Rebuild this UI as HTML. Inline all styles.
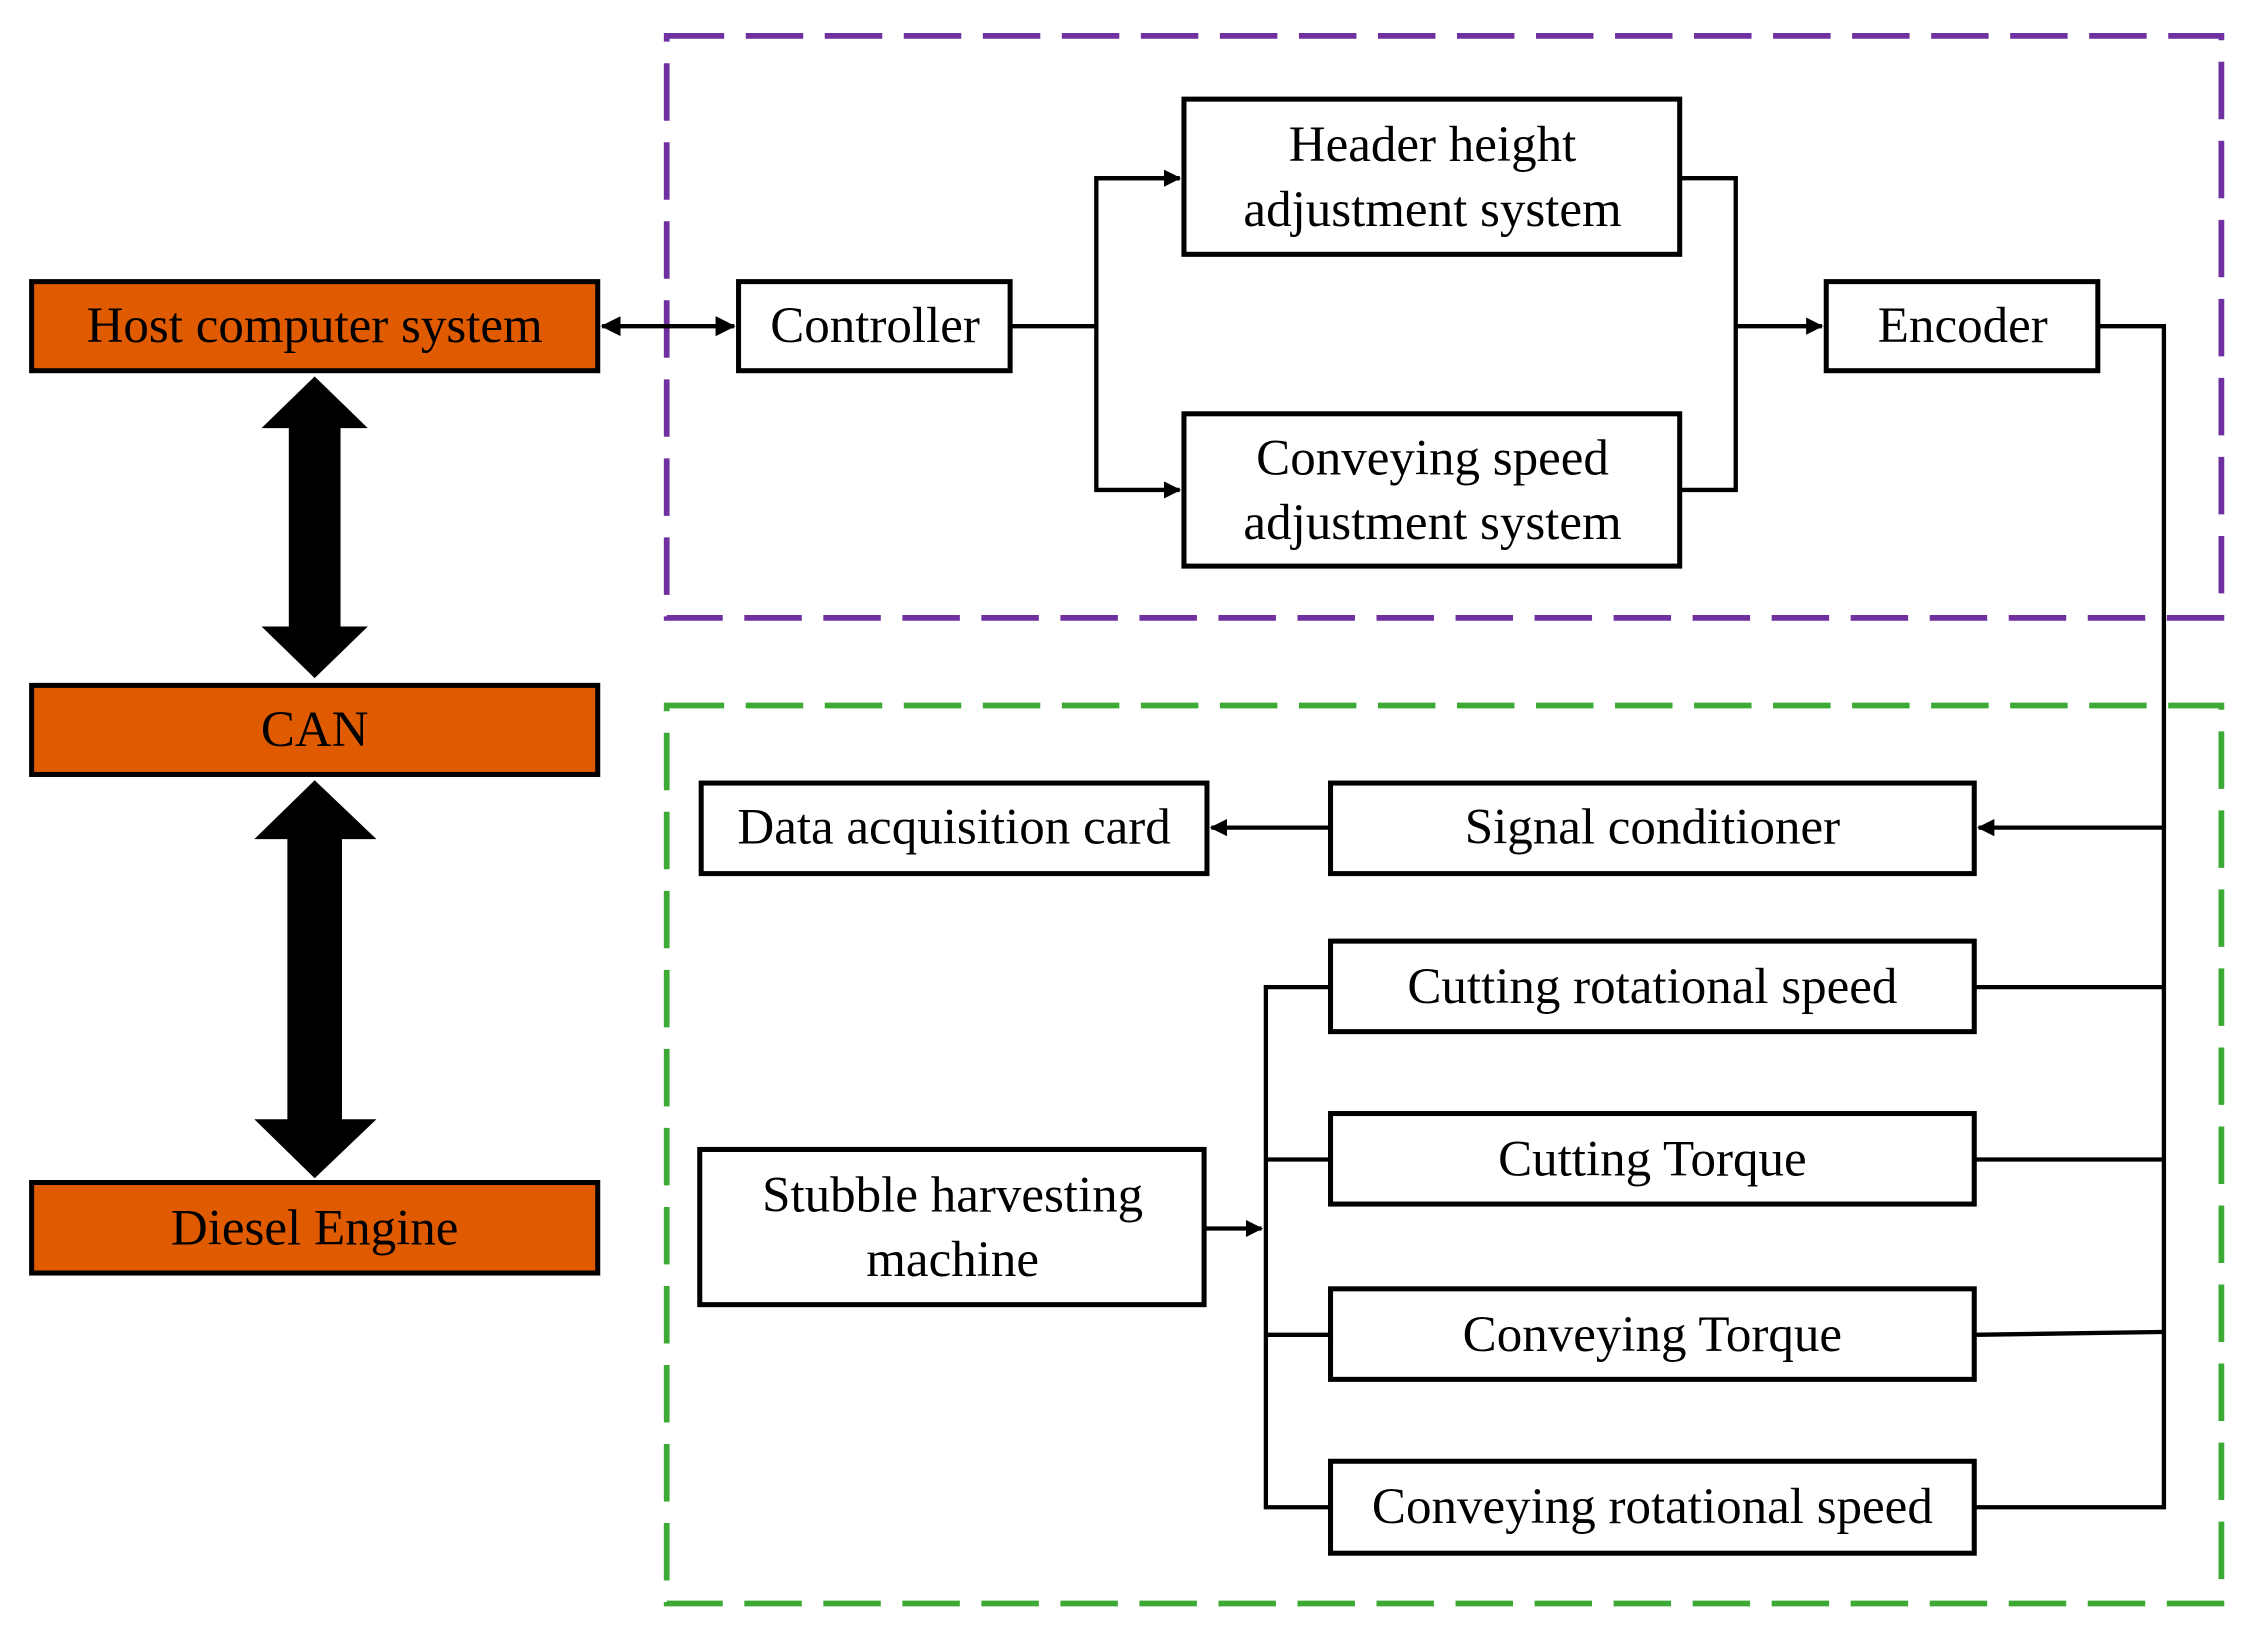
<!DOCTYPE html>
<html><head><meta charset="utf-8"><style>
html,body{margin:0;padding:0;background:#fff;}
svg{display:block;}
text{font-family:"Liberation Serif",serif;font-size:35.5px;fill:#000;text-anchor:middle;dominant-baseline:central;}
</style></head><body>
<svg width="2253" height="1640" viewBox="0 0 1568 1141.4" preserveAspectRatio="none" xmlns="http://www.w3.org/2000/svg">
<defs>
<marker id="a" markerWidth="12" markerHeight="12" refX="11" refY="6" orient="auto" markerUnits="userSpaceOnUse" viewBox="0 0 12 12">
<path d="M0,0 L12,6 L0,12 Z" fill="#000"/></marker>
<marker id="as" markerWidth="14" markerHeight="14" refX="13" refY="7" orient="auto-start-reverse" markerUnits="userSpaceOnUse" viewBox="0 0 14 14">
<path d="M0,0 L14,7 L0,14 Z" fill="#000"/></marker>
</defs>
<rect x="464" y="25" width="1082" height="405" fill="none" stroke="#7030A0" stroke-width="4" stroke-dasharray="40,15"/>
<rect x="464" y="491" width="1082" height="625" fill="none" stroke="#3DAA35" stroke-width="4" stroke-dasharray="40,15"/>
<g stroke="#000" stroke-width="3.5">
<rect x="22" y="196" width="394" height="62" fill="#E05A00"/>
<rect x="22" y="477" width="394" height="62" fill="#E05A00"/>
<rect x="22" y="823" width="394" height="63" fill="#E05A00"/>
<g fill="#fff">
<rect x="514" y="196" width="189" height="62"/>
<rect x="824" y="69" width="345" height="108"/>
<rect x="824" y="288" width="345" height="106"/>
<rect x="1271" y="196" width="189" height="62"/>
<rect x="488" y="545" width="352" height="63"/>
<rect x="926" y="545" width="448" height="63"/>
<rect x="926" y="655" width="448" height="63"/>
<rect x="926" y="775" width="448" height="63"/>
<rect x="926" y="897" width="448" height="63"/>
<rect x="926" y="1017" width="448" height="64"/>
<rect x="487" y="800" width="351" height="108"/>
</g>
</g>
<g fill="none" stroke="#000" stroke-width="3">
<line x1="419" y1="227" x2="511" y2="227" marker-start="url(#as)" marker-end="url(#as)"/>
<polyline points="703,227 763,227"/>
<polyline points="821,124 763,124 763,341 821,341" marker-end="url(#a)"/>
<line x1="763" y1="124" x2="821" y2="124" marker-end="url(#a)"/>
<polyline points="1169,124 1208,124 1208,341 1169,341"/>
<line x1="1208" y1="227" x2="1268" y2="227" marker-end="url(#a)"/>
<polyline points="1460,227 1506,227 1506,1049 1374,1049"/>
<line x1="1506" y1="576" x2="1377" y2="576" marker-end="url(#a)"/>
<line x1="926" y1="576" x2="843" y2="576" marker-end="url(#a)"/>
<line x1="1374" y1="687" x2="1506" y2="687"/>
<line x1="1374" y1="807" x2="1506" y2="807"/>
<line x1="1374" y1="929" x2="1506" y2="927"/>
<polyline points="926,687 881,687 881,1049 926,1049"/>
<line x1="881" y1="807" x2="926" y2="807"/>
<line x1="881" y1="929" x2="926" y2="929"/>
<line x1="838" y1="855" x2="878" y2="855" marker-end="url(#a)"/>
</g>
<path d="M219,262 L256,298 L237,298 L237,436 L256,436 L219,472 L182,436 L201,436 L201,298 L182,298 Z" fill="#000"/>
<path d="M219,543 L262,584 L238,584 L238,779 L262,779 L219,820 L177,779 L200,779 L200,584 L177,584 Z" fill="#000"/>
<text x="219" y="227">Host computer system</text>
<text x="219" y="508">CAN</text>
<text x="219" y="855">Diesel Engine</text>
<text x="609" y="227">Controller</text>
<text x="997" y="101">Header height</text>
<text x="997" y="146">adjustment system</text>
<text x="997" y="319">Conveying speed</text>
<text x="997" y="364">adjustment system</text>
<text x="1366" y="227">Encoder</text>
<text x="664" y="576">Data acquisition card</text>
<text x="1150" y="576">Signal conditioner</text>
<text x="1150" y="687">Cutting rotational speed</text>
<text x="1150" y="807">Cutting Torque</text>
<text x="1150" y="929">Conveying Torque</text>
<text x="1150" y="1049">Conveying rotational speed</text>
<text x="663" y="832">Stubble harvesting</text>
<text x="663" y="877">machine</text>
</svg>
</body></html>
